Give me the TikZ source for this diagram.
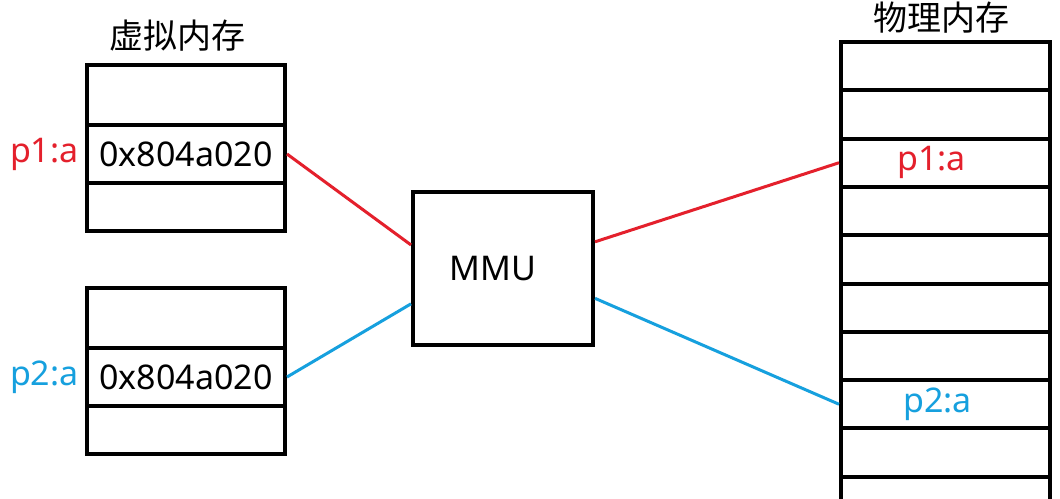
\documentclass[tikz,border=0pt]{standalone}
\usepackage{fontspec}
\setmainfont{Noto Sans}
\newfontfamily\cjk{Noto Sans CJK SC}
\usetikzlibrary{positioning, calc}

\definecolor{pred}{RGB}{228,32,44}
\definecolor{pblue}{RGB}{22,160,222}

\tikzset{
  cell/.style={rectangle, draw, line width=2pt, minimum width=99pt, inner sep=0pt,
    font=\fontsize{17}{20}\selectfont},
  label text/.style={inner sep=1pt, font=\fontsize{17}{20}\selectfont},
  title/.style={font=\cjk\fontsize{17}{20}\selectfont},
  redline/.style={pred, line width=1.5pt},
  blueline/.style={pblue, line width=1.5pt}
}

\begin{document}
\begin{tikzpicture}[x=0.5pt, y=-0.5pt]
  \useasboundingbox[fill=white] (0,0) rectangle (1060,498);

  % Virtual memory
  \node[title] (vtitle) at (177,36) {虚拟内存};
  \foreach \b/\y in {1/0, 2/223}
  {
    \node[cell, minimum height=30pt] (vtop\b) at (186,95+\y) {};
    \node[cell, minimum height=29pt] (vmid\b) at (186,154+\y) {0x804a020};
    \node[cell, minimum height=24pt] (vbot\b) at (186,206.5+\y) {};
  }
  \node[label text, text=pred, left=2pt of vmid1] (va1) {p1:a};
  \node[label text, text=pblue, left=2pt of vmid2] (va2) {p2:a};

  % MMU
  \node[cell, minimum width=90pt, minimum height=76.5pt] (mmu) at (503,268.5) {};
  \node[label text] (mmutext) at ([xshift=-5pt]mmu.center) {MMU};

  % Physical memory
  \node[title] (ptitle) at (941,18) {物理内存};
  \foreach \i in {1,...,10}
  \node[cell, minimum width=104.5pt, minimum height=24.15pt] (phys\i) at (945.5,{66.15+48.3*(\i-1)}) {};
  \node[label text, text=pred] (pa1) at ([xshift=-7pt]phys3.center) {p1:a};
  \node[label text, text=pblue] (pa2) at ([xshift=-4pt]phys8.center) {p2:a};

  % Lines
  \draw[redline] (vmid1.east) -- ($(mmu.north west)!0.35!(mmu.south west)$);
  \draw[blueline] (vmid2.east) -- ($(mmu.north west)!0.725!(mmu.south west)$);
  \draw[redline] ($(mmu.north east)!0.33!(mmu.south east)$) -- (phys3.west);
  \draw[blueline] ($(mmu.north east)!0.69!(mmu.south east)$) -- (phys8.west);
\end{tikzpicture}
\end{document}
